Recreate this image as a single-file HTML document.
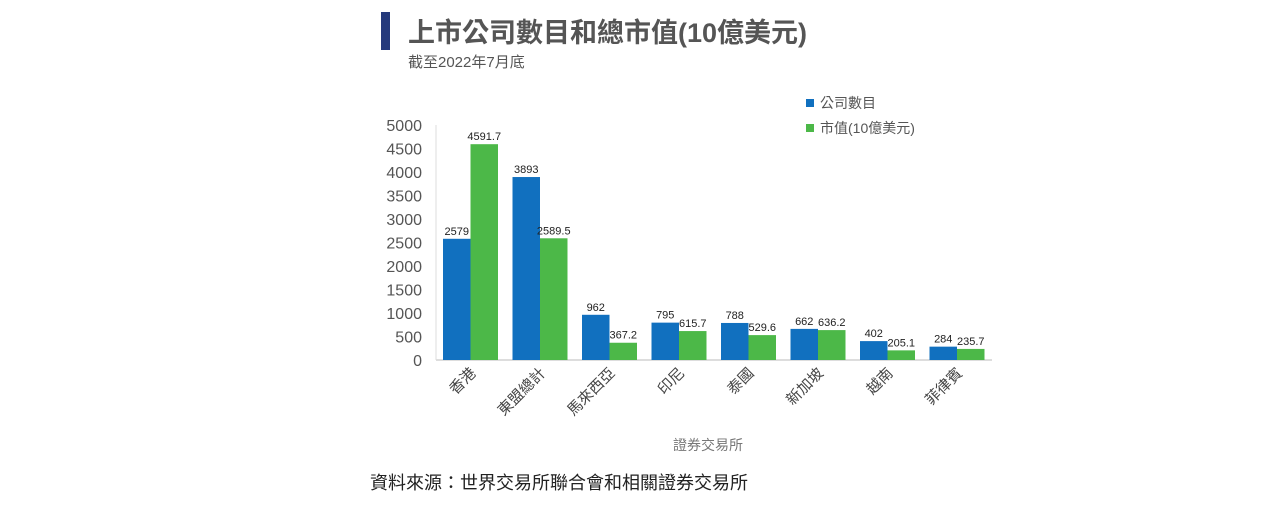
<!DOCTYPE html>
<html><head><meta charset="utf-8">
<style>
body{margin:0;width:1280px;height:500px;background:#fff;overflow:hidden;font-family:"Liberation Sans","Noto Sans CJK TC",sans-serif;}
svg text{font-family:"Liberation Sans","Noto Sans CJK TC",sans-serif;}
</style></head>
<body>
<svg width="1280" height="500">
<rect x="381" y="12" width="9" height="38" fill="#253a7c"/>
<text x="408" y="42" font-size="27" font-weight="bold" fill="#555">上市公司數目和總市值(10億美元)</text>
<text x="408" y="67" font-size="15" fill="#555">截至2022年7月底</text>
<g id="legend">
<rect x="806" y="99" width="8" height="8" fill="#1170bf"/>
<text x="820" y="108" font-size="14" fill="#555">公司數目</text>
<rect x="806" y="124" width="8" height="8" fill="#4cb848"/>
<text x="820" y="133" font-size="14" fill="#555">市值(10億美元)</text>
</g>
<g id="yaxis"></g>
<g id="bars"></g>
<g id="xlabels"></g>
<text x="708" y="450" font-size="14" fill="#777" text-anchor="middle">證券交易所</text>
<text x="370" y="489" font-size="18" fill="#222">資料來源：世界交易所聯合會和相關證券交易所</text>
</svg>
<script>
const categories=["香港","東盟總計","馬來西亞","印尼","泰國","新加坡","越南","菲律賓"];
const companies=[2579,3893,962,795,788,662,402,284];
const marketCap=[4591.7,2589.5,367.2,615.7,529.6,636.2,205.1,235.7];
const yTicks=[0,500,1000,1500,2000,2500,3000,3500,4000,4500,5000];
const NS="http://www.w3.org/2000/svg";
const x0=436,gw=69.5,y0=360,ytop=125,ymax=5000,bw=27.5;
const yS=v=>y0-(v/ymax)*(y0-ytop);
const xG=i=>x0+i*gw;
function mk(t,a,p){const e=document.createElementNS(NS,t);for(const k in a)e.setAttribute(k,a[k]);p.appendChild(e);return e;}
const ya=document.getElementById('yaxis');
yTicks.forEach(v=>{const t=mk('text',{x:422,y:yS(v)+6,'font-size':16,fill:'#555','text-anchor':'end'},ya);t.textContent=v;

});
const ax=mk('line',{x1:x0,y1:y0,x2:x0+categories.length*gw,y2:y0,stroke:'#bbb','stroke-width':1},ya);


const yl=mk('line',{x1:x0,y1:ytop,x2:x0,y2:y0,stroke:'#ddd','stroke-width':1},ya);


const bg=document.getElementById('bars');
const xl=document.getElementById('xlabels');
categories.forEach((c,i)=>{
 const bx=xG(i)+7;
 const b1=mk('rect',{x:bx,y:yS(companies[i]),width:bw,height:y0-yS(companies[i]),fill:'#1170bf'},bg);
 
 
 const b2=mk('rect',{x:bx+bw,y:yS(marketCap[i]),width:bw,height:y0-yS(marketCap[i]),fill:'#4cb848'},bg);
 
 
 const l1=mk('text',{x:bx+bw/2,y:yS(companies[i])-4,'font-size':11,fill:'#222','text-anchor':'middle'},bg);
 l1.textContent=companies[i];
 
 
 const l2=mk('text',{x:bx+bw*1.5,y:yS(marketCap[i])-4,'font-size':11,fill:'#222','text-anchor':'middle'},bg);
 l2.textContent=marketCap[i];
 
 
 const cx=xG(i)+gw/2+6,cy=374;
 const t=mk('text',{x:cx,y:cy,'font-size':15,fill:'#444','text-anchor':'end',transform:`rotate(-45 ${cx} ${cy})`},xl);
 t.textContent=c;
 
 
});
</script>
</body></html>
